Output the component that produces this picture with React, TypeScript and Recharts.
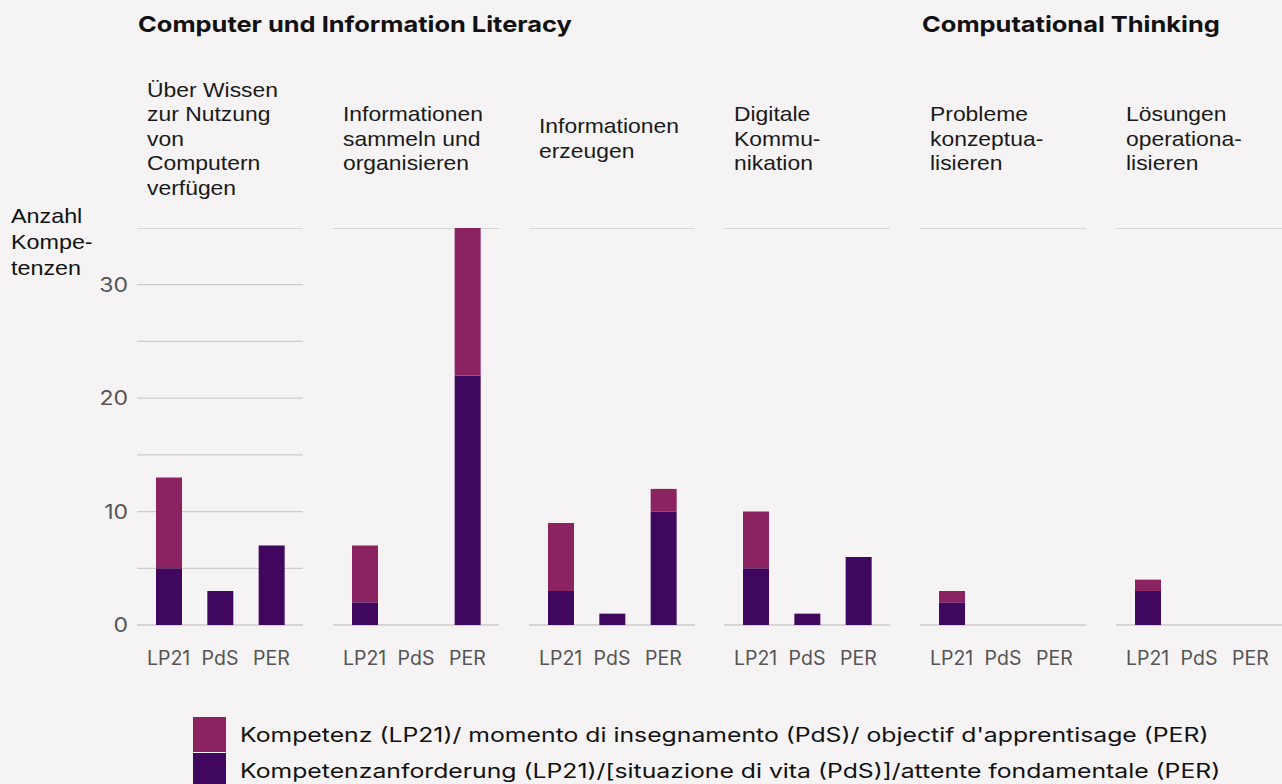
import React from "react";
import { BarChart, Bar, XAxis, YAxis, CartesianGrid } from "recharts";

const categories = ["LP21", "PdS", "PER"];
const panelTitles = [
  ["Über Wissen", "zur Nutzung", "von", "Computern", "verfügen"],
  ["Informationen", "sammeln und", "organisieren"],
  ["Informationen", "erzeugen"],
  ["Digitale", "Kommu-", "nikation"],
  ["Probleme", "konzeptua-", "lisieren"],
  ["Lösungen", "operationa-", "lisieren"],
];
// bottom segment (dark): Kompetenzanforderung / situazione di vita / attente fondamentale
const anforderungValues = [
  [5, 3, 7],
  [2, 0, 22],
  [3, 1, 10],
  [5, 1, 6],
  [2, 0, 0],
  [3, 0, 0],
];
// top segment (magenta): Kompetenz / momento di insegnamento / objectif d'apprentisage
const kompetenzValues = [
  [8, 0, 0],
  [5, 0, 13],
  [6, 0, 2],
  [5, 0, 0],
  [1, 0, 0],
  [1, 0, 0],
];
const yTicks = [0, 5, 10, 15, 20, 25, 30, 35];
const yLabelTicks = [0, 10, 20, 30];
const groupTitles = ["Computer und Information Literacy", "Computational Thinking"];
const yAxisTitle = ["Anzahl", "Kompe-", "tenzen"];
const legendLabels = [
  "Kompetenz (LP21)/ momento di insegnamento (PdS)/ objectif d'apprentisage (PER)",
  "Kompetenzanforderung (LP21)/[situazione di vita (PdS)]/attente fondamentale (PER)",
];

const PINK = "#8b2361";
const DARK = "#3f085e";
const BG = "#f5f3f4";
const GRID = "#cdcbcc";

const PANEL_X0 = 137;
const PANEL_STEP = 195.8;
const PANEL_W = 166;
const PLOT_TOP = 228;
const PLOT_H = 397;
const XAXIS_H = 50;
const YAXIS_W = 44;

function Wide({ s, children }: { s: number; children: React.ReactNode }) {
  return (
    <span
      style={{
        display: "inline-block",
        transform: `scaleX(${s})`,
        transformOrigin: "left center",
        whiteSpace: "nowrap",
      }}
    >
      {children}
    </span>
  );
}

function YTick(props: any) {
  const { x, y, payload } = props;
  const v = payload.value;
  if (!yLabelTicks.includes(v)) return null;
  return (
    <g transform={`translate(${x},${y}) scale(1.15,1)`}>
      <text
        x={0}
        y={0}
        dy="0.36em"
        textAnchor="end"
        fill="#555"
        fontSize={20}
        fontFamily="Inter, sans-serif"
      >
        {String(v)}
      </text>
    </g>
  );
}

function Panel({ idx }: { idx: number }) {
  const data = categories.map((c, k) => ({
    cat: c,
    anf: anforderungValues[idx][k],
    komp: kompetenzValues[idx][k],
  }));
  const first = idx === 0;
  const yw = first ? YAXIS_W : 0;
  const left = PANEL_X0 + PANEL_STEP * idx - yw;
  return (
    <div style={{ position: "absolute", left, top: PLOT_TOP }}>
      <BarChart
        width={PANEL_W + yw}
        height={PLOT_H + XAXIS_H}
        data={data}
        margin={{ top: 0, right: 0, bottom: 0, left: 0 }}
        barSize={26}
      >
        <CartesianGrid vertical={false} stroke={GRID} strokeWidth={1.3} />
        <XAxis
          dataKey="cat"
          axisLine={false}
          tickLine={false}
          padding={{ left: 6, right: 6 }}
          height={XAXIS_H}
          tickMargin={20}
          tick={{ fill: "#555", fontSize: 19.5, fontFamily: "Inter, sans-serif" }}
          interval={0}
        />
        <YAxis
          domain={[0, 35]}
          ticks={yTicks}
          width={yw}
          axisLine={false}
          tickLine={false}
          tickMargin={3}
          tick={first ? <YTick /> : false}
          interval={0}
        />
        <Bar dataKey="anf" stackId="a" fill={DARK} isAnimationActive={false} />
        <Bar dataKey="komp" stackId="a" fill={PINK} isAnimationActive={false} />
      </BarChart>
    </div>
  );
}

export default function App() {
  const headerStyle: React.CSSProperties = {
    position: "absolute",
    top: 11,
    fontFamily: "Inter, sans-serif",
    fontWeight: 700,
    fontSize: 22,
    color: "#111",
  };
  return (
    <div
      style={{
        position: "absolute",
        left: 0,
        top: 0,
        width: 1282,
        height: 784,
        background: BG,
        overflow: "hidden",
        fontFamily: "'Liberation Sans', Arial, sans-serif",
      }}
    >
      <div style={{ ...headerStyle, left: 138 }}>
        <Wide s={1.155}>{groupTitles[0]}</Wide>
      </div>
      <div style={{ ...headerStyle, left: 922 }}>
        <Wide s={1.155}>{groupTitles[1]}</Wide>
      </div>
      {panelTitles.map((lines, i) => (
        <div
          key={i}
          style={{
            position: "absolute",
            left: PANEL_X0 + PANEL_STEP * i + 10,
            top: 139 - (lines.length * 24.6) / 2,
            fontSize: 21,
            lineHeight: "24.6px",
            color: "#1a1a1a",
          }}
        >
          {lines.map((l, j) => (
            <div key={j}>
              <Wide s={1.09}>{l}</Wide>
            </div>
          ))}
        </div>
      ))}
      <div
        style={{
          position: "absolute",
          left: 11,
          top: 203,
          fontSize: 21,
          lineHeight: "26px",
          color: "#111",
        }}
      >
        {yAxisTitle.map((l, j) => (
          <div key={j}>
            <Wide s={1.11}>{l}</Wide>
          </div>
        ))}
      </div>
      {[0, 1, 2, 3, 4, 5].map((i) => (
        <Panel key={i} idx={i} />
      ))}
      {legendLabels.map((label, i) => (
        <div
          key={i}
          style={{
            position: "absolute",
            left: 193,
            top: 717 + i * 36,
            height: 35,
            display: "flex",
            alignItems: "center",
          }}
        >
          <div style={{ width: 33, height: 35, background: i === 0 ? PINK : DARK }} />
          <div
            style={{
              marginLeft: 14,
              fontFamily: "Inter, sans-serif",
              fontSize: 19.5,
              color: "#111",
            }}
          >
            <Wide s={1.27}>{label}</Wide>
          </div>
        </div>
      ))}
    </div>
  );
}
